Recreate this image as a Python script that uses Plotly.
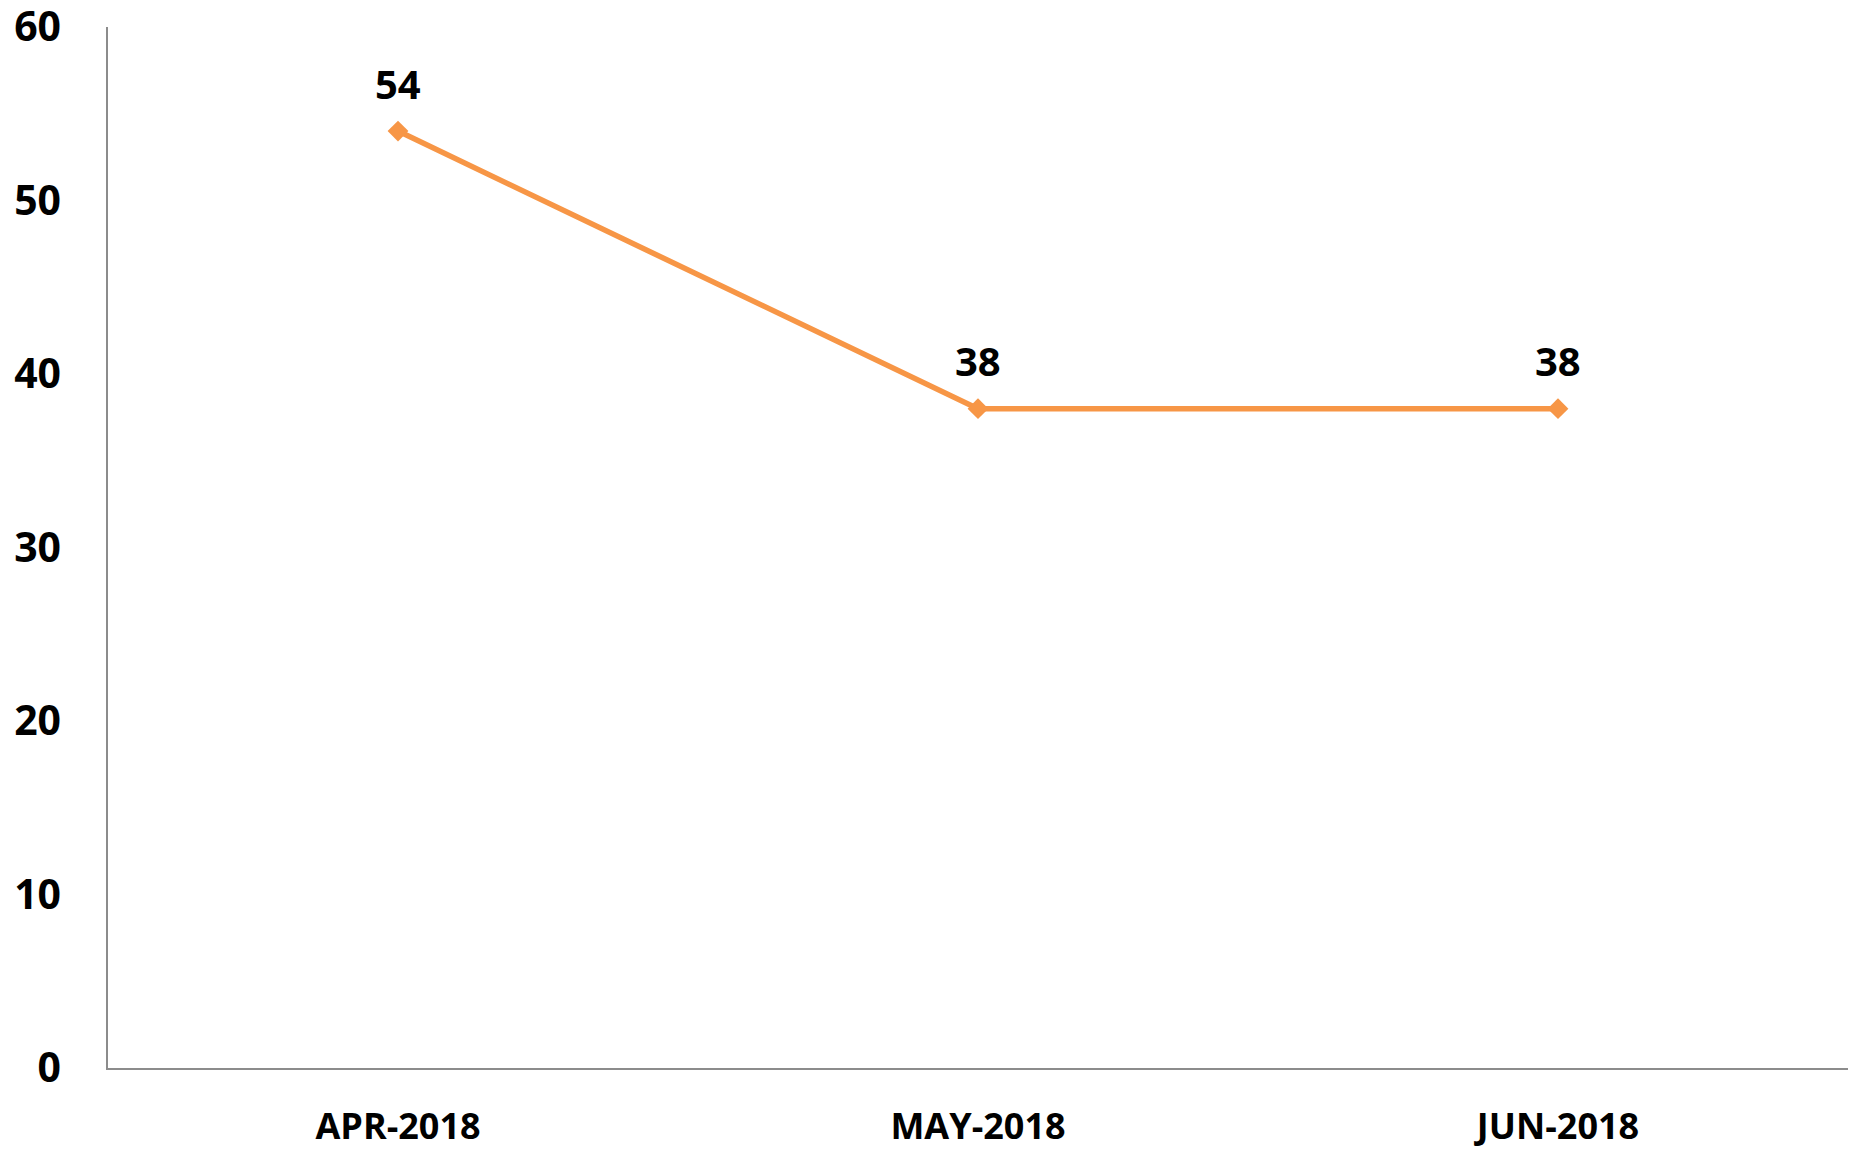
import plotly.graph_objects as go

categories = ["APR-2018", "MAY-2018", "JUN-2018"]
values = [54, 38, 38]
y_ticks = [0, 10, 20, 30, 40, 50, 60]

FONT = "Open Sans"
fig = go.Figure()
fig.add_trace(go.Scatter(
    x=categories, y=values, mode="lines+markers",
    line=dict(color="#F79646", width=5.5),
    marker=dict(symbol="diamond", size=16, color="#F79646"),
    hoverinfo="x+y", showlegend=False, cliponaxis=False,
))
for c, v in zip(categories, values):
    fig.add_annotation(x=c, y=v, text=f"<b>{v}</b>", showarrow=False,
                       yshift=48, font=dict(family=FONT, size=40, color="black"))

# page body adds an 8px offset, so the figure is sized to fit the window
fig.update_layout(
    width=1850, height=1142,
    margin=dict(l=100, r=10, t=19, b=82),
    paper_bgcolor="white", plot_bgcolor="white",
    xaxis=dict(type="category", range=[-0.5, 2.5], showgrid=False, automargin=False,
               showline=True, linecolor="#8c8c8c", linewidth=1.5,
               ticks="", ticklabelstandoff=26, ticklabeloverflow="allow",
               tickfont=dict(family=FONT, size=36, color="black", weight="bold")),
    yaxis=dict(range=[0, 60], tickvals=y_ticks, showgrid=False, zeroline=False, automargin=False,
               showline=True, linecolor="#8c8c8c", linewidth=1.5,
               ticks="", ticklabelstandoff=37, ticklabeloverflow="allow",
               tickfont=dict(family=FONT, size=41, color="black", weight="bold")),
)
fig.write_html("out.html")
